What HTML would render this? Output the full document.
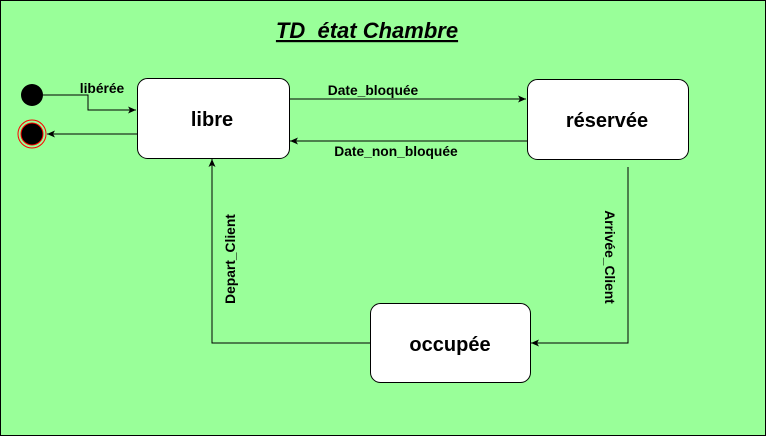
<!DOCTYPE html>
<html><head><meta charset="utf-8"><style>
html,body{margin:0;padding:0;width:766px;height:436px;overflow:hidden;background:#99ff99}
svg{display:block;font-family:"Liberation Sans",sans-serif}
</style></head><body>
<svg width="766" height="436" viewBox="0 0 766 436">
<defs><marker id="a" markerWidth="10" markerHeight="10" refX="8" refY="5" orient="auto" markerUnits="userSpaceOnUse"><path d="M0,1.5 L8,5 L0,8.5 L2,5 Z" fill="#000"/></marker></defs>
<rect x="0.5" y="0.5" width="765" height="435" fill="#99ff99" stroke="#000"/>
<text x="367" y="38" text-anchor="middle" font-size="22" font-weight="bold" font-style="italic" text-decoration="underline" xml:space="preserve">TD  état Chambre</text>
<circle cx="32" cy="95" r="11" fill="#000"/>
<circle cx="32" cy="134" r="14" fill="none" stroke="#ff0000" stroke-width="1"/>
<circle cx="32" cy="134" r="11" fill="#000" stroke="#ff0000"/>
<g fill="none" stroke="#000" stroke-width="1">
<path d="M43,95 H88 V110 H136" marker-end="url(#a)"/>
<path d="M137,134 H47" marker-end="url(#a)"/>
<path d="M289,99 H526" marker-end="url(#a)"/>
<path d="M527,141 H290" marker-end="url(#a)"/>
<path d="M628,167 V343 H531" marker-end="url(#a)"/>
<path d="M370,343 H212 V159" marker-end="url(#a)"/>
</g>
<rect x="137.5" y="78.5" width="152" height="80" rx="10" fill="#fff" stroke="#000"/>
<rect x="527.5" y="79.5" width="161" height="80" rx="10" fill="#fff" stroke="#000"/>
<rect x="370.5" y="303.5" width="160" height="79" rx="10" fill="#fff" stroke="#000"/>
<g font-weight="bold" font-size="20" text-anchor="middle">
<text x="212" y="126">libre</text>
<text x="607" y="127">réservée</text>
<text x="450" y="351">occupée</text>
</g>
<g font-weight="bold" font-size="13.8" text-anchor="middle">
<text x="102" y="93">libérée</text>
<text x="373" y="95">Date_bloquée</text>
<text x="396" y="156">Date_non_bloquée</text>
<text transform="translate(605,257) rotate(90)">Arrivée_Client</text>
<text transform="translate(235,259) rotate(-90)">Depart_Client</text>
</g>
</svg>
</body></html>
